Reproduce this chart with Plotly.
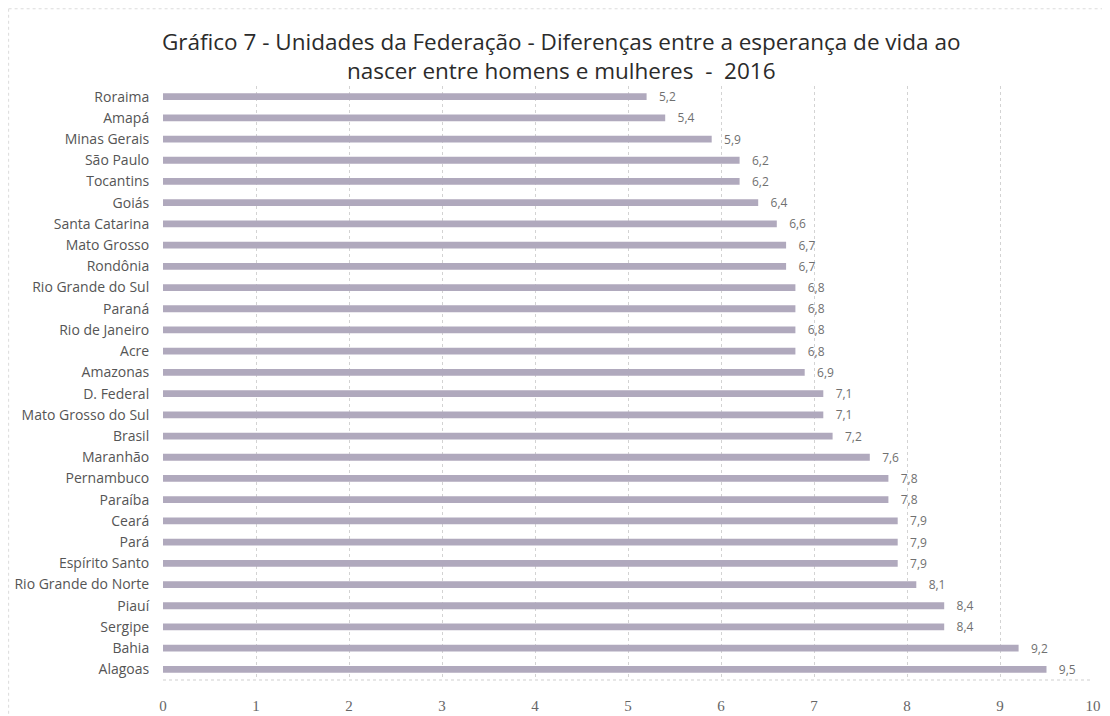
import plotly.graph_objects as go

estados = ["Roraima", "Amapá", "Minas Gerais", "São Paulo", "Tocantins", "Goiás",
           "Santa Catarina", "Mato Grosso", "Rondônia", "Rio Grande do Sul", "Paraná",
           "Rio de Janeiro", "Acre", "Amazonas", "D. Federal", "Mato Grosso do Sul",
           "Brasil", "Maranhão", "Pernambuco", "Paraíba", "Ceará", "Pará",
           "Espírito Santo", "Rio Grande do Norte", "Piauí", "Sergipe", "Bahia", "Alagoas"]
diferencas = [5.2, 5.4, 5.9, 6.2, 6.2, 6.4, 6.6, 6.7, 6.7, 6.8, 6.8, 6.8, 6.8, 6.9,
              7.1, 7.1, 7.2, 7.6, 7.8, 7.8, 7.9, 7.9, 7.9, 8.1, 8.4, 8.4, 9.2, 9.5]
x_ticks = list(range(0, 11))
titulo = ("Gráfico 7 - Unidades da Federação - Diferenças entre a esperança de vida ao"
          "<br>nascer entre homens e mulheres  -  2016")

labels = ["   " + f"{v:.1f}".replace(".", ",") for v in diferencas]

fig = go.Figure(go.Bar(
    x=diferencas, y=estados, orientation="h",
    marker=dict(color="#b0a9bd", line=dict(width=0)),
    text=labels, textposition="outside", cliponaxis=False, constraintext="none",
    textfont=dict(family="Open Sans", size=12, color="#707070"),
    width=0.32,
))

fig.update_layout(
    width=1110, height=716,
    paper_bgcolor="white", plot_bgcolor="white",
    margin=dict(l=155, r=25, t=78, b=44),
    showlegend=False,
    annotations=[
        dict(text=titulo, xref="paper", yref="paper", x=0.428, y=1.05,
             xanchor="center", yanchor="middle", showarrow=False,
             font=dict(family="Open Sans", size=22.5, color="#2b2b2b")),
    ],
    shapes=[
        dict(type="line", xref="paper", yref="paper", x0=-0.166, x1=1.02, y0=1.13, y1=1.13,
             line=dict(color="#dcdcdc", width=1, dash="dot"), layer="below"),
        dict(type="line", xref="paper", yref="paper", x0=-0.166, x1=-0.166, y0=1.13, y1=-0.075,
             line=dict(color="#dcdcdc", width=1, dash="dot"), layer="below"),
        dict(type="line", xref="paper", yref="paper", x0=0, x1=1, y0=0, y1=0,
             line=dict(color="#cfcfcf", width=1, dash="dot"), layer="below"),
    ],
)

fig.update_xaxes(
    range=[0, 10], tickvals=x_ticks, ticktext=[str(t) for t in x_ticks],
    showgrid=True, gridcolor="#d3d3d3", griddash="dot", gridwidth=1,
    zeroline=False, showline=False, automargin=False,
    ticks="outside", ticklen=12, tickcolor="rgba(0,0,0,0)",
    tickfont=dict(family="Liberation Serif", size=15, color="#666666"),
)
fig.update_yaxes(
    categoryorder="array", categoryarray=estados, autorange="reversed",
    showgrid=False, showline=False, automargin=False,
    ticks="outside", ticklen=10, tickcolor="rgba(0,0,0,0)",
    tickfont=dict(family="Open Sans", size=14, color="#555555"),
)

fig.write_html("out.html")
